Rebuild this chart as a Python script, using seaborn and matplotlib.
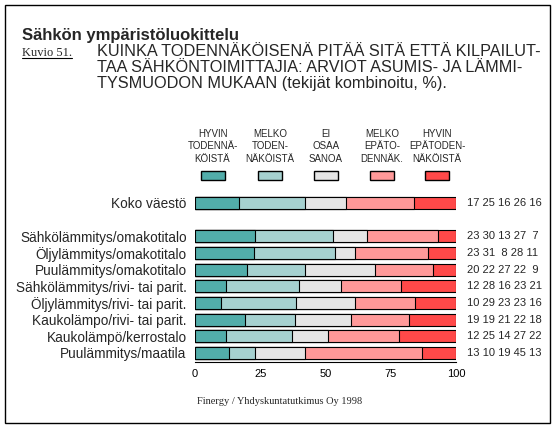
import numpy as np
import pandas as pd
import seaborn as sns
import matplotlib
matplotlib.use('Agg')
import matplotlib.pyplot as plt
from matplotlib.patches import Rectangle
from matplotlib.lines import Line2D

# Data.
groups = ["Koko väestö",
          "Sähkölämmitys/omakotitalo",
          "Öljylämmitys/omakotitalo",
          "Puulämmitys/omakotitalo",
          "Sähkölämmitys/rivi- tai parit.",
          "Öljylämmitys/rivi- tai parit.",
          "Kaukolämpo/rivi- tai parit.",
          "Kaukolämpö/kerrostalo",
          "Puulämmitys/maatila"]
hyvin_tod = [17, 23, 23, 20, 12, 10, 19, 12, 13]
melko_tod = [25, 30, 31, 22, 28, 29, 19, 25, 10]
ei_osaa = [16, 13, 8, 27, 16, 23, 21, 14, 19]
melko_epa = [26, 27, 28, 22, 23, 23, 22, 27, 45]
hyvin_epa = [16, 7, 11, 9, 21, 16, 18, 22, 13]

categories = ["HYVIN\nTODENNÄ-\nKÖISTÄ", "MELKO\nTODEN-\nNÄKÖISTÄ", "EI\nOSAA\nSANOA",
              "MELKO\nEPÄTO-\nDENNÄK.", "HYVIN\nEPÄTODEN-\nNÄKÖISTÄ"]
colors = ["#52ADAA", "#A6D1D0", "#E5E5E5", "#FF9999", "#FF4949"]

# Blank slot between the whole population and the subgroups.
order = [groups[0], " "] + groups[1:]

values = np.array([hyvin_tod, melko_tod, ei_osaa, melko_epa, hyvin_epa], dtype=float)
shares = values / values.sum(axis=0) * 100
cum = np.cumsum(shares, axis=0)

sns.set_style("white")
plt.rcParams['font.family'] = ['Liberation Sans', 'DejaVu Sans']

fig = plt.figure(figsize=(5.57, 4.29), dpi=100)
ax = fig.add_axes([195 / 557, 67 / 429, 261 / 557, 167.4 / 429])

# Stacked bars: draw cumulative totals from the widest down.
for k in range(len(categories) - 1, -1, -1):
    df = pd.DataFrame({"group": groups, "value": cum[k]})
    sns.barplot(data=df, x="value", y="group", order=order, orient="h",
                color=colors[k], saturation=1, width=0.72, errorbar=None,
                edgecolor="black", linewidth=0.8, ax=ax)

ax.set_xlim(0, 100)
ax.set_ylim(len(order) - 0.46, -0.5)
ax.set_xticks([0, 25, 50, 75, 100])
ax.set_xlabel("")
ax.set_ylabel("")
ax.tick_params(axis="x", length=3, width=0.8, direction="out", labelsize=8, pad=2, colors="black")
ax.tick_params(axis="y", length=0, labelsize=9.8, pad=6)
for side in ["left", "right", "top"]:
    ax.spines[side].set_visible(False)
ax.spines["bottom"].set_linewidth(0.8)
ax.spines["bottom"].set_color("black")

# Numbers on the right of each bar.
for g, row in zip(groups, values.T.astype(int)):
    txt = " ".join("{:>2}".format(v) for v in row)
    ax.text(104.2, order.index(g), txt, fontsize=8, va="center", ha="left", clip_on=False)

# Legend headers and swatches above the chart.
centers = [212.5, 270, 326, 382, 437]
for cx, lab, c in zip(centers, categories, colors):
    fig.text(cx / 557, 1 - 129 / 429, lab, ha="center", va="top", fontsize=7,
             linespacing=1.3)
    fig.add_artist(Rectangle(((cx - 12) / 557, 1 - 180 / 429), 24 / 557, 9 / 429,
                             transform=fig.transFigure, facecolor=c,
                             edgecolor="black", linewidth=1.0))

# Titles.
fig.text(22 / 557, 1 - 40 / 429, "Sähkön ympäristöluokittelu", fontsize=12,
         fontweight="bold", va="baseline", ha="left")
kuvio = fig.text(22 / 557, 1 - 56 / 429, "Kuvio 51.", fontsize=9, family="Liberation Serif",
                 va="baseline", ha="left")
fig.text(97 / 557, 1 - 44 / 429,
         "KUINKA TODENNÄKÖISENÄ PITÄÄ SITÄ ETTÄ KILPAILUT-\n"
         "TAA SÄHKÖNTOIMITTAJIA: ARVIOT ASUMIS- JA LÄMMI-\n"
         "TYSMUODON MUKAAN (tekijät kombinoitu, %).",
         fontsize=11.7, va="top", ha="left", linespacing=1.1)
fig.text(197 / 557, 1 - 404 / 429, "Finergy / Yhdyskuntatutkimus Oy 1998", fontsize=7.5,
         family="Liberation Serif", va="baseline", ha="left")

# Underline for the figure number.
fig.canvas.draw()
bb = kuvio.get_window_extent().transformed(fig.transFigure.inverted())
fig.add_artist(Line2D([bb.x0, bb.x1], [1 - 58 / 429, 1 - 58 / 429],
                      transform=fig.transFigure, color="black", linewidth=0.8))

# Outer frame.
fig.add_artist(Rectangle((5 / 557, 6 / 429), 545 / 557, 418 / 429, transform=fig.transFigure,
                         fill=False, edgecolor="black", linewidth=1.0))

fig.savefig("out.png", dpi=100)
